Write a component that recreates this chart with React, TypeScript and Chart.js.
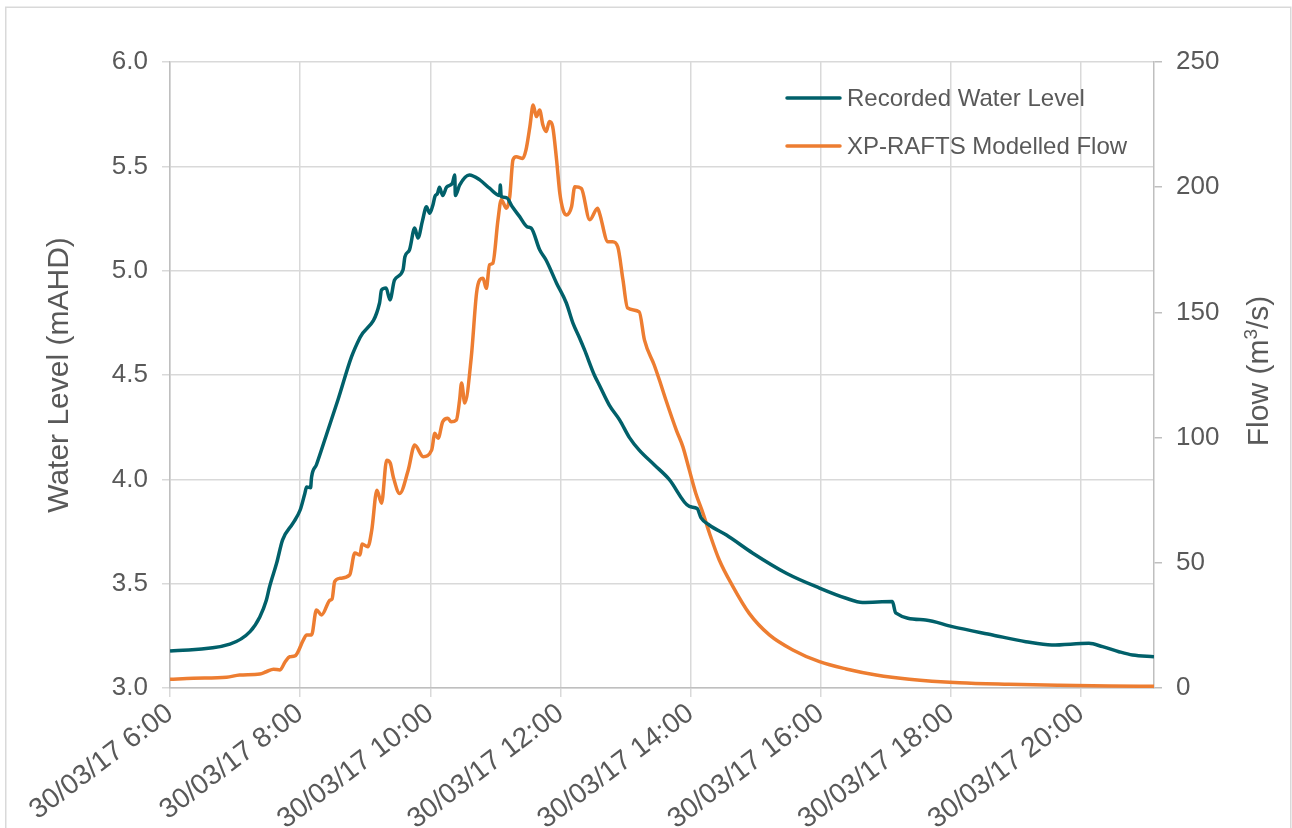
import React, { useEffect, useRef } from "react";
import { Chart, registerables } from "chart.js";

Chart.register(...registerables);

// ---- Data (hours of day on 30/03/17) ----
const dateLabel = "30/03/17";
const xTickHours = [6, 8, 10, 12, 14, 16, 18, 20];
const xMin = 6;
const xMax = 21.12;
const levelTicks = [3.0, 3.5, 4.0, 4.5, 5.0, 5.5, 6.0];
const flowTicks = [0, 50, 100, 150, 200, 250];
const seriesNames = ["Recorded Water Level", "XP-RAFTS Modelled Flow"];
const leftTitle = "Water Level (mAHD)";

const levelTimes = [
  6.0, 6.92, 7.23, 7.38, 7.48, 7.53, 7.64, 7.73, 7.89, 8.0, 8.07, 8.1, 8.16, 8.175, 8.25,
  8.41, 8.58, 8.79, 8.92, 9.22, 9.25, 9.32, 9.38, 9.45, 9.58, 9.61, 9.68, 9.76, 9.81, 9.88,
  9.94, 9.99, 10.04, 10.07, 10.11, 10.14, 10.19, 10.25, 10.34, 10.375, 10.385, 10.45, 10.6,
  10.76, 10.91, 11.065, 11.075, 11.09, 11.17, 11.26, 11.37, 11.49, 11.55, 11.68, 11.78, 11.94,
  12.09, 12.19, 12.29, 12.37, 12.52, 12.6, 12.75, 12.91, 13.06, 13.21, 13.44, 13.67, 13.98,
  14.1, 14.16, 14.29, 14.55, 14.95, 15.47, 15.98, 16.39, 16.64, 17.1, 17.15, 17.61, 18.02,
  18.64, 19.15, 19.55, 20.12, 20.33, 20.58, 20.79, 21.12,
];
const levelValues = [
  3.177, 3.21, 3.27, 3.34, 3.42, 3.485, 3.6, 3.71, 3.79, 3.853, 3.93, 3.963, 3.96, 4.01, 4.07,
  4.22, 4.38, 4.588, 4.68, 4.845, 4.907, 4.917, 4.86, 4.955, 5.003, 5.067, 5.1, 5.204, 5.156, 5.24,
  5.306, 5.275, 5.315, 5.355, 5.37, 5.4, 5.36, 5.4, 5.42, 5.458, 5.36, 5.41, 5.458,
  5.435, 5.395, 5.36, 5.41, 5.355, 5.35, 5.306, 5.26, 5.21, 5.204, 5.1, 5.05, 4.94,
  4.845, 4.75, 4.68, 4.62, 4.5, 4.45, 4.356, 4.284, 4.2, 4.14, 4.07, 4.0, 3.87,
  3.86, 3.815, 3.78, 3.733, 3.647, 3.55, 3.479, 3.43, 3.41, 3.414, 3.36, 3.326, 3.294,
  3.254, 3.222, 3.206, 3.214, 3.198, 3.174, 3.158, 3.15,
];

const flowTimes = [
  6.0, 6.36, 6.87, 7.07, 7.38, 7.48, 7.59, 7.69, 7.77, 7.84, 7.92, 8.05, 8.1, 8.175, 8.25,
  8.33, 8.46, 8.49, 8.53, 8.61, 8.76, 8.84, 8.92, 8.95, 9.04, 9.1, 9.18, 9.25, 9.33, 9.385,
  9.43, 9.53, 9.66, 9.76, 9.89, 10.02, 10.07, 10.12, 10.19, 10.27, 10.32, 10.4, 10.45, 10.48,
  10.53, 10.63, 10.71, 10.76, 10.81, 10.86, 10.91, 10.96, 11.04, 11.09, 11.17, 11.22, 11.27,
  11.32, 11.42, 11.47, 11.53, 11.58, 11.63, 11.68, 11.73, 11.78, 11.83, 11.88, 11.94, 11.99,
  12.04, 12.09, 12.17, 12.22, 12.32, 12.45, 12.57, 12.6, 12.73, 12.8, 12.88, 12.96, 13.03,
  13.21, 13.29, 13.44, 13.52, 13.62, 13.78, 13.88, 13.98, 14.08, 14.19, 14.29, 14.44, 14.65,
  14.9, 15.21, 15.57, 15.98, 16.39, 16.85, 17.36, 18.13, 18.89, 19.66, 20.43, 21.12,
];
const flowValues = [
  3.5, 3.9, 4.3, 5.2, 5.6, 6.5, 7.5, 7.2, 10.5, 12.5, 12.8, 19.2, 21.2, 21.2, 31.2,
  29.2, 35.1, 35.5, 42.5, 43.8, 45.1, 53.9, 53.1, 57.5, 56.4, 63, 79, 73.8, 91, 89.8,
  84.4, 77.7, 87, 97, 92.4, 95, 101.7, 99.7, 106.3, 107.7, 106.3, 107, 115, 121.8,
  113.8, 132.3, 157.6, 163, 163.6, 159.6, 169, 169.6, 187, 195, 191.6, 196.2, 210.9,
  212.2, 211.5, 214.9, 224.2, 232.8, 228.2, 230.8, 224.8, 222.2, 226.2, 224.2, 210.9, 197.6,
  190.9, 188.9, 192.2, 200.2, 199.5, 187, 191.6, 189.6, 178.2, 178.2, 176.2, 163, 151.8,
  150.2, 139, 129, 123, 115, 103, 96.4, 87, 77.7, 69.8, 61.8, 51.1, 40.5,
  29.8, 21.2, 15.2, 10.5, 7.6, 5.2, 3.5, 2.1, 1.5, 1.1, 0.8, 0.7,
];

const FONT = '"Liberation Sans", Arial, Helvetica, sans-serif';
const TEXT = "#595959";
const GRID = "#d9d9d9";
const AXIS = "#bfbfbf";
const TEAL = "#01606a";
const ORANGE = "#ed7d31";

const overlayPlugin = {
  id: "overlay",
  beforeDraw(chart: any) {
    const ctx = chart.ctx;
    ctx.save();
    ctx.fillStyle = "#ffffff";
    ctx.fillRect(0, 0, chart.width, chart.height);
    ctx.strokeStyle = GRID;
    ctx.lineWidth = 1.5;
    ctx.strokeRect(5.75, 7.25, chart.width - 7, chart.height + 20);
    ctx.restore();
  },
  afterDraw(chart: any) {
    const ctx = chart.ctx;
    const area = chart.chartArea;
    ctx.save();
    // Legend inside plot area, top right
    const lx0 = area.right - 367;
    const lx1 = area.right - 314;
    chart.data.datasets.forEach((ds: any, i: number) => {
      const y = area.top + 36 + i * 48;
      ctx.strokeStyle = ds.borderColor;
      ctx.lineWidth = 3.5;
      ctx.lineCap = "round";
      ctx.beginPath();
      ctx.moveTo(lx0, y);
      ctx.lineTo(lx1, y);
      ctx.stroke();
      ctx.fillStyle = TEXT;
      ctx.font = `24px ${FONT}`;
      ctx.textAlign = "left";
      ctx.textBaseline = "middle";
      ctx.fillText(ds.label, lx1 + 7, y + 1);
    });
    // Right axis title, reading bottom-to-top, with superscript
    const s = chart.scales.y1;
    const cx = s.right - 34;
    const cy = (area.top + area.bottom) / 2 - 4;
    ctx.translate(cx, cy);
    ctx.rotate(-Math.PI / 2);
    const big = `30px ${FONT}`;
    const small = `19px ${FONT}`;
    const p1 = "Flow (m";
    const p2 = "3";
    const p3 = "/s)";
    ctx.font = big;
    const w1 = ctx.measureText(p1).width;
    const w3 = ctx.measureText(p3).width;
    ctx.font = small;
    const w2 = ctx.measureText(p2).width;
    let x = -(w1 + w2 + w3) / 2;
    ctx.fillStyle = TEXT;
    ctx.textAlign = "left";
    ctx.textBaseline = "alphabetic";
    const base = 10;
    ctx.font = big;
    ctx.fillText(p1, x, base);
    x += w1;
    ctx.font = small;
    ctx.fillText(p2, x, base - 11);
    x += w2;
    ctx.font = big;
    ctx.fillText(p3, x, base);
    ctx.restore();
  },
};

export default function App() {
  const canvasRef = useRef<HTMLCanvasElement | null>(null);

  useEffect(() => {
    const canvas = canvasRef.current;
    if (!canvas) return;
    const tickFont = { family: FONT, size: 26 };
    const chart = new Chart(canvas, {
      type: "line",
      data: {
        datasets: [
          {
            label: seriesNames[0],
            data: levelTimes.map((t, i) => ({ x: t, y: levelValues[i] })),
            borderColor: TEAL,
            backgroundColor: TEAL,
            borderWidth: 3.5,
            pointRadius: 0,
            cubicInterpolationMode: "monotone",
            yAxisID: "y",
          },
          {
            label: seriesNames[1],
            data: flowTimes.map((t, i) => ({ x: t, y: flowValues[i] })),
            borderColor: ORANGE,
            backgroundColor: ORANGE,
            borderWidth: 3.5,
            pointRadius: 0,
            cubicInterpolationMode: "monotone",
            yAxisID: "y1",
          },
        ],
      },
      options: {
        animation: false,
        responsive: true,
        maintainAspectRatio: false,
        layout: { padding: { top: 62, left: 0, right: 0, bottom: 0 } },
        plugins: {
          legend: { display: false },
          tooltip: { enabled: false },
        },
        scales: {
          x: {
            type: "linear",
            min: xMin,
            max: xMax,
            afterBuildTicks: (scale: any) => {
              scale.ticks = xTickHours.map((v) => ({ value: v }));
            },
            afterFit: (scale: any) => {
              scale.height = 140;
            },
            ticks: {
              autoSkip: false,
              minRotation: 37,
              maxRotation: 37,
              font: { family: FONT, size: 28 },
              color: TEXT,
              padding: 0,
              callback: (v: any) => `${dateLabel} ${v}:00`,
            },
            grid: { color: GRID, lineWidth: 1.5, tickLength: 9, drawTicks: true },
            border: { color: AXIS, width: 1.5 },
          },
          y: {
            type: "linear",
            position: "left",
            min: levelTicks[0],
            max: levelTicks[levelTicks.length - 1],
            afterBuildTicks: (scale: any) => {
              scale.ticks = levelTicks.map((v) => ({ value: v }));
            },
            afterFit: (scale: any) => {
              scale.width = 170;
            },
            ticks: {
              font: tickFont,
              color: TEXT,
              padding: 14,
              callback: (v: any) => Number(v).toFixed(1),
            },
            grid: { color: GRID, lineWidth: 1.5, tickLength: 8 },
            border: { color: AXIS, width: 1.5 },
            title: {
              display: true,
              text: leftTitle,
              color: TEXT,
              font: { family: FONT, size: 30 },
              padding: { top: 42, bottom: 0 },
            },
          },
          y1: {
            type: "linear",
            position: "right",
            min: flowTicks[0],
            max: flowTicks[flowTicks.length - 1],
            afterBuildTicks: (scale: any) => {
              scale.ticks = flowTicks.map((v) => ({ value: v }));
            },
            afterFit: (scale: any) => {
              scale.width = 138;
            },
            ticks: {
              font: tickFont,
              color: TEXT,
              padding: 14,
            },
            grid: { drawOnChartArea: false, color: AXIS, lineWidth: 1.5, tickLength: 8 },
            border: { color: AXIS, width: 1.5 },
          },
        },
      },
      plugins: [overlayPlugin],
    } as any);
    return () => chart.destroy();
  }, []);

  return (
    <div style={{ position: "absolute", left: 0, top: 0, width: 1292, height: 828 }}>
      <canvas ref={canvasRef} />
    </div>
  );
}
